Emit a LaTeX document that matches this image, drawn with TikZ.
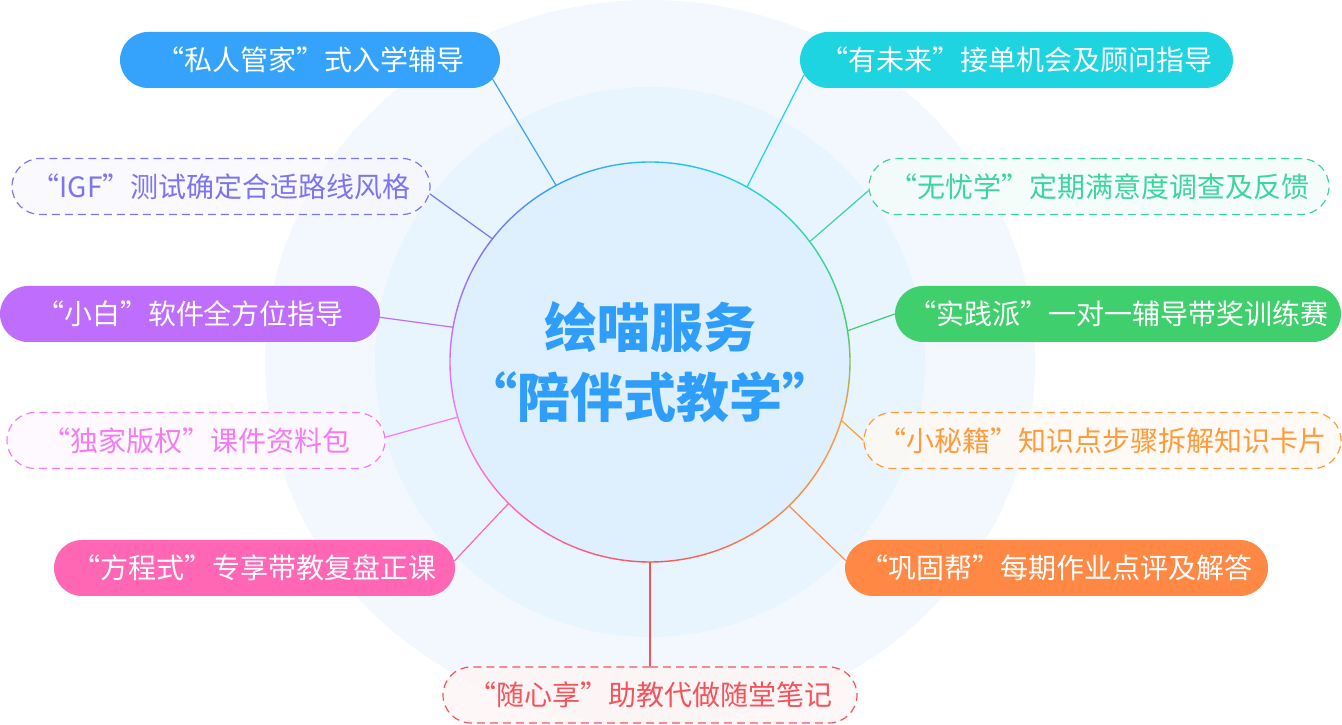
\documentclass[tikz,border=0pt]{standalone}
\usepackage{fontspec}
\setmainfont{Noto Sans CJK SC}
\usetikzlibrary{shapes.misc,calc}
\definecolor{haloA}{HTML}{F3F8FE}
\definecolor{haloB}{HTML}{E8F4FE}
\definecolor{innerc}{HTML}{DEEFFD}
\definecolor{titlec}{HTML}{2F9EFA}
\definecolor{c1}{HTML}{35A3FC}
\definecolor{c2}{HTML}{7D74F1}
\definecolor{c3}{HTML}{BE6DFC}
\definecolor{c4}{HTML}{F67BF3}
\definecolor{c5}{HTML}{FF67B4}
\definecolor{c6}{HTML}{F5535B}
\definecolor{c7}{HTML}{FF8944}
\definecolor{c8}{HTML}{FF9B3B}
\definecolor{c9}{HTML}{3FCF6D}
\definecolor{c10}{HTML}{3CD59F}
\definecolor{c11}{HTML}{1DD4E0}
\begin{document}
\begin{tikzpicture}[x=1pt,y=1pt,
  pill/.style={rounded rectangle, minimum height=56pt, inner sep=0pt,
    font=\fontsize{28}{32}\selectfont},
  solidpill/.style={pill, fill=#1, text=white},
  dashpill/.style={pill, draw=#1, fill=#1!6, fill opacity=0.8, text opacity=1,
    text=#1, line width=1.2pt, dash pattern=on 8pt off 5pt},
  link/.style={draw=#1, line width=1.2pt}]
\useasboundingbox (0,0) rectangle (1342,725);
% background halos
\fill[haloA] (650,363) ellipse [x radius=385, y radius=362];
\fill[haloB] (650,363) circle [radius=275];
% centre
\node[circle, minimum size=400pt, inner sep=0pt, fill=innerc, align=center,
  text=titlec, font=\fontsize{53}{70}\selectfont\bfseries] (C) at (650,363)
  {绘喵服务\\“陪伴式教学”};
% gradient ring
\foreach \ua/\ka/\ub/\kb in {61.3/c11/118.7/c1, 118.7/c1/142.3/c2,
  142.3/c2/170.3/c3, 170.3/c3/196.2/c4, 196.2/c4/225.8/c5, 225.8/c5/270/c6,
  270/c6/314.2/c7, 314.2/c7/343.8/c8, 343.8/c8/369.7/c9, 369.7/c9/397.7/c10,
  397.7/c10/421.3/c11}{
  \foreach \i in {0,...,11}{
    \pgfmathsetmacro\sa{\ua+(\ub-\ua)*\i/12}
    \pgfmathsetmacro\ea{\ua+(\ub-\ua)*(\i+1)/12}
    \pgfmathtruncatemacro\pc{(\i+0.5)*100/12}
    \colorlet{segc}{\kb!\pc!\ka}
    \draw[segc, line width=1.4pt] ($(C.center)+(\sa:200)$) arc[start angle=\sa, end angle=\ea, radius=200];
  }
}
% pills
\node[solidpill=c1, minimum width=380pt] (p1) at (310,665) {“私人管家”式入学辅导};
\node[dashpill=c2, minimum width=418pt] (p2) at (221,538.5) {“IGF”测试确定合适路线风格};
\node[solidpill=c3, minimum width=380pt] (p3) at (190,411) {“小白”软件全方位指导};
\node[dashpill=c4, minimum width=378pt] (p4) at (196,284.5) {“独家版权”课件资料包};
\node[solidpill=c5, minimum width=401pt] (p5) at (254.5,157) {“方程式”专享带教复盘正课};
\node[dashpill=c6, minimum width=414pt] (p6) at (650,30) {“随心享”助教代做随堂笔记};
\node[solidpill=c7, minimum width=423pt] (p7) at (1056.5,157) {“巩固帮”每期作业点评及解答};
\node[dashpill=c8, minimum width=477pt] (p8) at (1102.5,284.5) {“小秘籍”知识点步骤拆解知识卡片};
\node[solidpill=c9, minimum width=446pt] (p9) at (1118,411) {“实践派”一对一辅导带奖训练赛};
\node[dashpill=c10, minimum width=460pt] (p10) at (1099,538.5) {“无忧学”定期满意度调查及反馈};
\node[solidpill=c11, minimum width=433pt] (p11) at (1016.5,665) {“有未来”接单机会及顾问指导};
% connectors
\draw[link=c1] (C.118.7) -- (p1.-6);
\draw[link=c2] (C.142.3) -- (p2.-2);
\draw[link=c3] (C.170.3) -- (p3.-1);
\draw[link=c4] (C.196.2) -- (p4.1);
\draw[link=c5] (C.225.8) -- (p5.2);
\draw[link=c6] (C.270) -- (p6.north);
\draw[link=c7] (C.314.2) -- (p7.178.4);
\draw[link=c8] (C.343.8) -- (p8.180);
\draw[link=c9] (C.9.7) -- (p9.180.5);
\draw[link=c10] (C.37.7) -- (p10.181.6);
\draw[link=c11] (C.61.3) -- (p11.184.8);
\end{tikzpicture}
\end{document}
